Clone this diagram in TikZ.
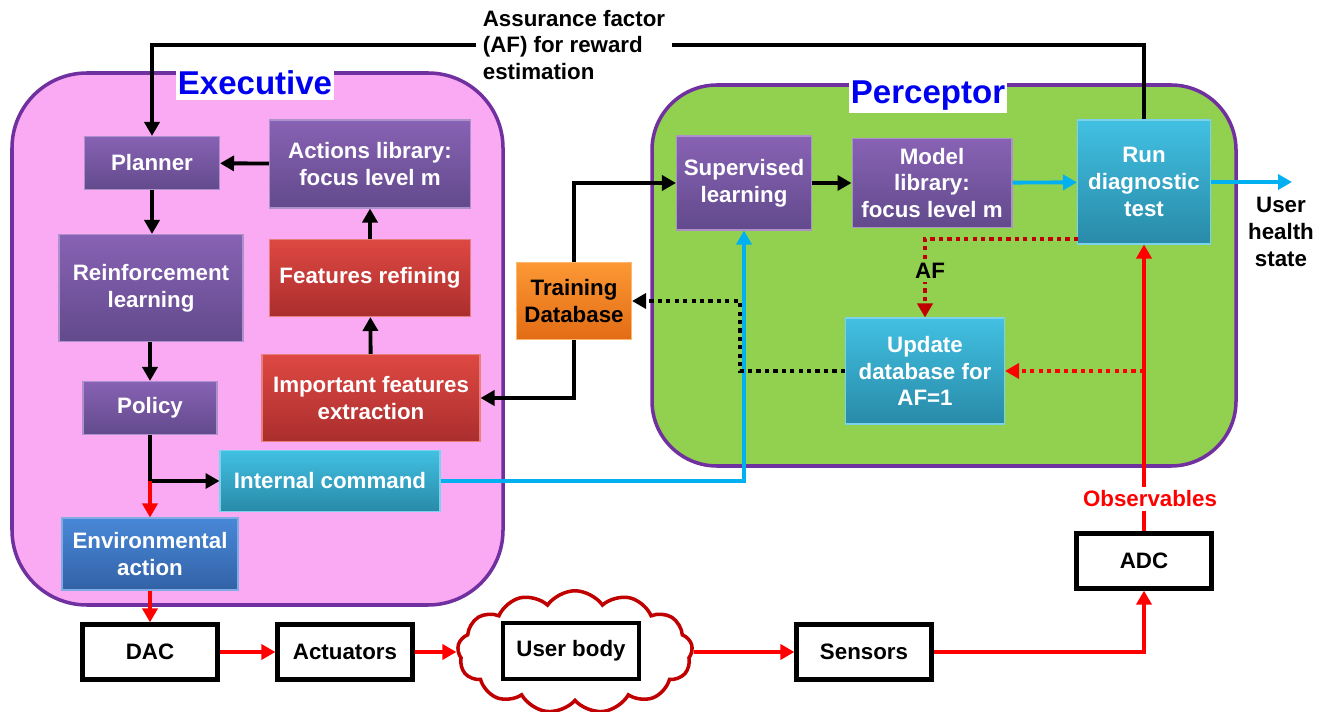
\documentclass[tikz,border=0pt]{standalone}
\usepackage{fontspec}
\setmainfont{Liberation Sans}
\usepackage{tikz}
\usetikzlibrary{arrows.meta,positioning,shapes.symbols,calc}

\definecolor{exepink}{RGB}{250,170,242}
\definecolor{pergreen}{RGB}{146,208,80}
\definecolor{framepur}{RGB}{112,48,160}
\definecolor{purtop}{RGB}{136,98,180}
\definecolor{purbot}{RGB}{98,74,140}
\definecolor{redtop}{RGB}{222,72,66}
\definecolor{redbot}{RGB}{170,46,46}
\definecolor{cyatop}{RGB}{66,192,226}
\definecolor{cyabot}{RGB}{40,138,168}
\definecolor{blutop}{RGB}{72,136,216}
\definecolor{blubot}{RGB}{50,98,166}
\definecolor{orgtop}{RGB}{252,152,52}
\definecolor{orgbot}{RGB}{226,108,20}
\definecolor{skyline}{RGB}{0,176,240}
\definecolor{darkred}{RGB}{192,0,0}
\definecolor{titleblue}{RGB}{0,0,240}

\begin{document}
\begin{tikzpicture}[x=0.02cm, y=-0.02cm,
  txt/.style={font=\fontsize{12.7}{15.2}\selectfont\bfseries},
  block/.style={txt, text=white, align=center, inner sep=2pt, line width=0.6pt},
  purp/.style={block, top color=purtop, bottom color=purbot, draw=purtop!70!white},
  redb/.style={block, top color=redtop, bottom color=redbot, draw=redtop!70!white},
  cyab/.style={block, top color=cyatop, bottom color=cyabot, draw=cyatop!70!white},
  blub/.style={block, top color=blutop, bottom color=blubot, draw=blutop!70!white},
  orgb/.style={block, text=black, top color=orgtop, bottom color=orgbot, draw=orgtop!70!white},
  plain/.style={txt, draw, line width=2.4pt, fill=white, minimum width=2.7cm, minimum height=1.1cm},
  title/.style={font=\fontsize{18.8}{20}\selectfont\bfseries, text=titleblue, fill=white,
    inner xsep=1pt, inner ysep=0pt, minimum height=0.68cm},
  arr/.style={-{Triangle[length=2.8mm,width=3mm]}, line width=2.2pt},
  dots/.style={line width=2.4pt, dash pattern=on 2.4pt off 2.4pt}
]
\useasboundingbox (0,0) rectangle (1321,712);

% Containers
\draw[line width=2pt, draw=framepur, fill=exepink, rounded corners=1.5cm] (12,73) rectangle (503,605);
\draw[line width=2pt, draw=framepur, fill=pergreen, rounded corners=1.3cm] (652,85) rectangle (1236,466);
\node[title] (exetitle) at (255,83) {Executive};
\node[title] (pertitle) at (928,96) {Perceptor};

% Executive
\node[purp, minimum width=2.7cm, minimum height=1.06cm] (planner) at (152,163) {Planner};
\node[purp, minimum width=4.02cm, minimum height=1.76cm] (actions) at (370,164) {Actions library:\\focus level m};
\node[purp, minimum width=3.68cm, minimum height=2.14cm] (reinf) at (151,288) {Reinforcement\\learning};
\node[redb, minimum width=4.02cm, minimum height=1.54cm] (featref) at (370,278) {Features refining};
\node[purp, minimum width=2.68cm, minimum height=1.06cm] (policy) at (150,408) {Policy};
\node[redb, minimum width=4.36cm, minimum height=1.74cm] (impfeat) at (371,398) {Important features\\extraction};
\node[cyab, minimum width=4.4cm, minimum height=1.22cm] (intcmd) at (330,481) {Internal command};
\node[blub, minimum width=3.52cm, minimum height=1.44cm] (envact) at (150,554) {Environmental\\action};

% Training
\node[orgb, minimum width=2.3cm, minimum height=1.54cm] (train) at (574,301) {Training\\Database};

% Perceptor
\node[purp, minimum width=2.7cm, minimum height=1.88cm] (superv) at (744,183) {Supervised\\learning};
\node[purp, minimum width=3.2cm, minimum height=1.78cm] (model) at (932,183) {Model\\library:\\focus level m};
\node[cyab, minimum width=2.66cm, minimum height=2.48cm] (run) at (1144,182) {Run\\diagnostic\\test};
\node[cyab, minimum width=3.18cm, minimum height=2.12cm] (update) at (925,371) {Update\\database for\\AF=1};

% Environment
\node[plain] (adc) at (1144,561) {ADC};
\node[plain] (dac) at (150,652) {DAC};
\node[plain] (actuat) at (345,652) {Actuators};
\node[cloud, draw=darkred, line width=2pt, fill=white, cloud puffs=13, cloud puff arc=110,
  cloud ignores aspect, minimum width=4.7cm, minimum height=2.45cm] (cloud) at (575,652) {};
\node[plain, minimum width=2.72cm, minimum height=1.12cm] (body) at (571,651) {User body};
\node[plain] (sensors) at (864,652) {Sensors};

% Executive connectors
\coordinate (afrow) at (0,45);
\draw[arr] (run.north) -- (run.north |- afrow) -| (planner.north);
\draw[arr] (actions) -- (planner);
\draw[arr] (planner.south) -- (planner.south |- reinf.north);
\draw[arr] (policy.north |- reinf.south) -- (policy.north);
\draw[arr] (featref) -- (actions);
\draw[arr] (impfeat) -- (featref);
\coordinate (split) at (policy.south |- intcmd.west);
\draw[arr] (policy.south) |- (intcmd.west);
\draw[arr, red] (split) -- (envact.north);

% Outer loop
\draw[arr, red] (envact) -- (dac);
\draw[arr, red] (dac) -- (actuat);
\draw[arr, red] (actuat) -- (cloud.west);
\draw[arr, red] (cloud.east) -- (sensors);
\draw[arr, red] (sensors.east) -| (adc.south);
\draw[arr, red] (adc) -- (run);

% Perceptor connectors
\draw[arr] (train.north) |- (superv.west);
\draw[arr] (train.south) |- (impfeat.east);
\draw[arr] (superv) -- (model);
\draw[arr, skyline] (model) -- (run);
\coordinate (health) at (1292,182);
\draw[arr, skyline] (run) -- (health);
\draw[arr, skyline] (intcmd.east) -| (superv.south);
\coordinate (afstart) at (1078,239);
\draw[arr, dots, darkred] (afstart) -| (update.north);
\coordinate (obsrow) at (run.south |- update.east);
\draw[arr, dots, red] (obsrow) -- (update.east);
\draw[arr, dots] (update.west) -- ++(-105,0) |- (train.east);

% Labels
\node[txt, fill=white, align=left, inner xsep=4pt] (aflabel) at (574,45) {Assurance factor\\(AF) for reward\\estimation};
\node[txt, text=red, fill=white, inner sep=2pt] (obs) at (1150,499) {Observables};
\node[txt, fill=pergreen, inner sep=2pt] (af) at (930,271) {AF};
\node[txt, align=center] (state) at (1281,232) {User\\health\\state};

\end{tikzpicture}
\end{document}
